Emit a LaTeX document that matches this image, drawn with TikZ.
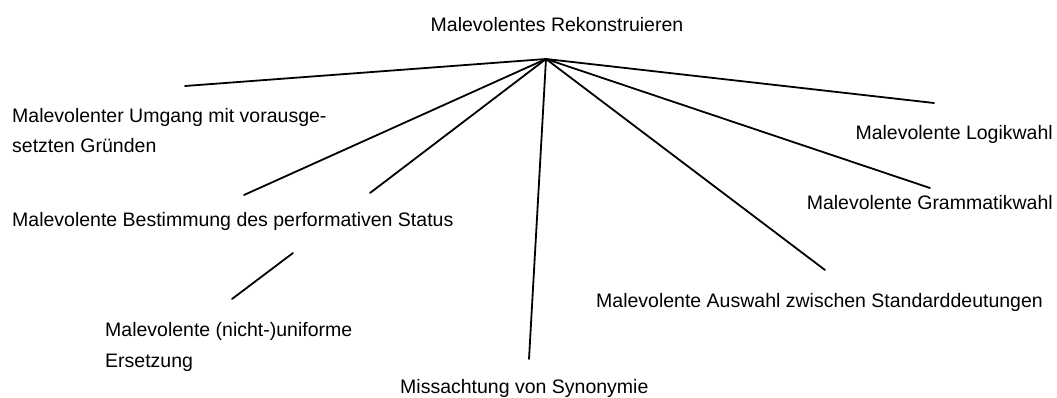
\documentclass[tikz,border=0pt]{standalone}
\usepackage{fontspec}
\setmainfont{Liberation Sans}
\begin{document}
\begin{tikzpicture}[x=1pt,y=-1pt,
  lbl/.style={inner sep=0pt, font=\fontsize{19.5}{30.5}\selectfont},
  edge/.style={line width=1.8pt, line cap=round}]
\useasboundingbox[fill=white] (0,0) rectangle (1057,398);

% root and the point where all branches meet
\node[lbl, anchor=base] (root) at (557,32) {Malevolentes Rekonstruieren};
\coordinate (hub) at (546,59);

% branch labels (two-line labels are placed by the baseline of their last line)
\node[lbl, anchor=base west, align=left] (umgang) at (12,153)
  {Malevolenter Umgang mit vorausge-\\setzten Gründen};
\node[lbl, anchor=base west] (bestimmung) at (12,226)
  {Malevolente Bestimmung des performativen Status};
\node[lbl, anchor=base west, align=left] (ersetzung) at (105,367)
  {Malevolente (nicht-)uniforme\\Ersetzung};
\node[lbl, anchor=base west] (synonymie) at (400,393)
  {Missachtung von Synonymie};
\node[lbl, anchor=base west] (auswahl) at (596,307)
  {Malevolente Auswahl zwischen Standarddeutungen};
\node[lbl, anchor=base east] (logik) at (1053,140)
  {Malevolente Logikwahl};
\node[lbl, anchor=base east] (grammatik) at (1053,210)
  {Malevolente Grammatikwahl};

% free ends of the connectors
\coordinate (eUmgang) at (185,86);
\coordinate (eBest1) at (244,195);
\coordinate (eBest2) at (370,193);
\coordinate (eSyn) at (529,359);
\coordinate (eAusw) at (825,270);
\coordinate (eGram) at (930,188);
\coordinate (eLogik) at (934,103);
\coordinate (eErsA) at (293,253);
\coordinate (eErsB) at (232,299);

% connectors
\draw[edge] (hub) -- (eUmgang);
\draw[edge] (hub) -- (eBest1);
\draw[edge] (hub) -- (eBest2);
\draw[edge] (hub) -- (eSyn);
\draw[edge] (hub) -- (eAusw);
\draw[edge] (hub) -- (eGram);
\draw[edge] (hub) -- (eLogik);
\draw[edge] (eErsA) -- (eErsB);
\end{tikzpicture}
\end{document}
